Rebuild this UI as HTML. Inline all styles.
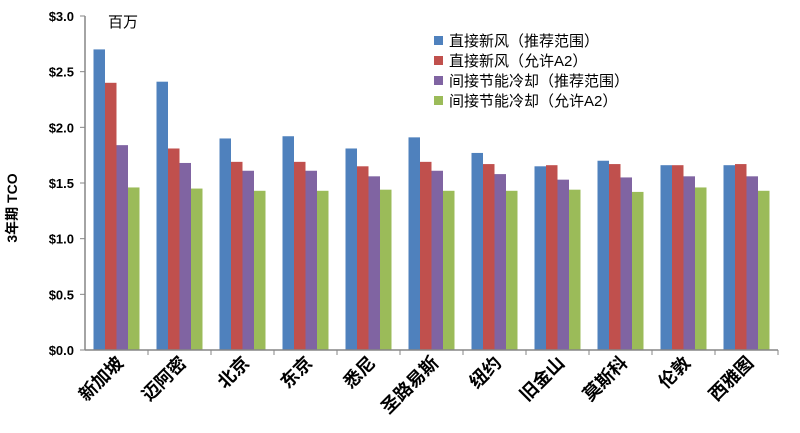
<!DOCTYPE html>
<html><head><meta charset="utf-8"><style>
body{margin:0;background:#fff;}
svg text{font-family:"Liberation Sans","Noto Sans CJK SC",sans-serif;}
</style></head><body>
<svg id="c" width="800" height="428"></svg>
<script>
const categories=["新加坡","迈阿密","北京","东京","悉尼","圣路易斯","纽约","旧金山","莫斯科","伦敦","西雅图"];
const seriesNames=["直接新风（推荐范围）","直接新风（允许A2）","间接节能冷却（推荐范围）","间接节能冷却（允许A2）"];
const s1=[2.70,2.41,1.90,1.92,1.81,1.91,1.77,1.65,1.70,1.66,1.66];
const s2=[2.40,1.81,1.69,1.69,1.65,1.69,1.67,1.66,1.67,1.66,1.67];
const s3=[1.84,1.68,1.61,1.61,1.56,1.61,1.58,1.53,1.55,1.56,1.56];
const s4=[1.46,1.45,1.43,1.43,1.44,1.43,1.43,1.44,1.42,1.46,1.43];
const yTicks=["$0.0","$0.5","$1.0","$1.5","$2.0","$2.5","$3.0"];
const yTickVals=[0,0.5,1,1.5,2,2.5,3];
const colors=["#4F81BD","#C0504D","#8064A2","#9BBB59"];
const series=[s1,s2,s3,s4];
const svg=document.getElementById('c');
const NS="http://www.w3.org/2000/svg";
const x0=85,x1=778,y0=350,y1=16;
const y=v=>y0-(v/3)*(y0-y1);
const gw=(x1-x0)/categories.length;
const bw=11.5;
function mk(t,a){const e=document.createElementNS(NS,t);for(const k in a)e.setAttribute(k,a[k]);svg.appendChild(e);return e;}
yTickVals.forEach((v,i)=>{
  const t=mk('line',{x1:80,x2:x0,y1:y(v),y2:y(v),stroke:'#868686'});
  
  
  const l=mk('text',{x:74,y:y(v)+5,'text-anchor':'end','font-size':13,'font-weight':'bold'});
  l.textContent=yTicks[i];
  
  
});
categories.forEach((c,i)=>{
  const gx=x0+gw*i;
  series.forEach((s,j)=>{
    const bx=gx+gw/2-2*bw+j*bw;
    const r=mk('rect',{x:bx,y:y(s[i]),width:bw,height:y0-y(s[i]),fill:colors[j]});
    
    
  });
  const tk=mk('line',{x1:gx+gw,x2:gx+gw,y1:y0,y2:y0+5,stroke:'#868686'});
  
  
  const cx=gx+gw/2+8,cy=y0+14;
  const l=mk('text',{x:cx,y:cy,'text-anchor':'end','font-size':18,'font-weight':'bold',transform:`rotate(-45 ${cx} ${cy})`});
  l.textContent=c;
  
  
});
const ax=mk('line',{x1:x0,x2:x0,y1:y1,y2:y0,stroke:'#868686','stroke-width':1.5});


const axx=mk('line',{x1:x0,x2:x1,y1:y0,y2:y0,stroke:'#868686','stroke-width':1.5});


const yt=mk('text',{x:17,y:208,'text-anchor':'middle','font-size':14,'font-weight':'bold',transform:'rotate(-90 17 208)'});
yt.textContent='3年期 TCO';


const u=mk('text',{x:108,y:27,'font-size':15});
u.textContent='百万';


seriesNames.forEach((n,j)=>{
  const ly=44+j*20;
  const r=mk('rect',{x:434,y:ly-8,width:9,height:9,fill:colors[j]});
  
  
  const t=mk('text',{x:449,y:ly+2,'font-size':15});
  t.textContent=n;
  
  
});
</script>
</body></html>
